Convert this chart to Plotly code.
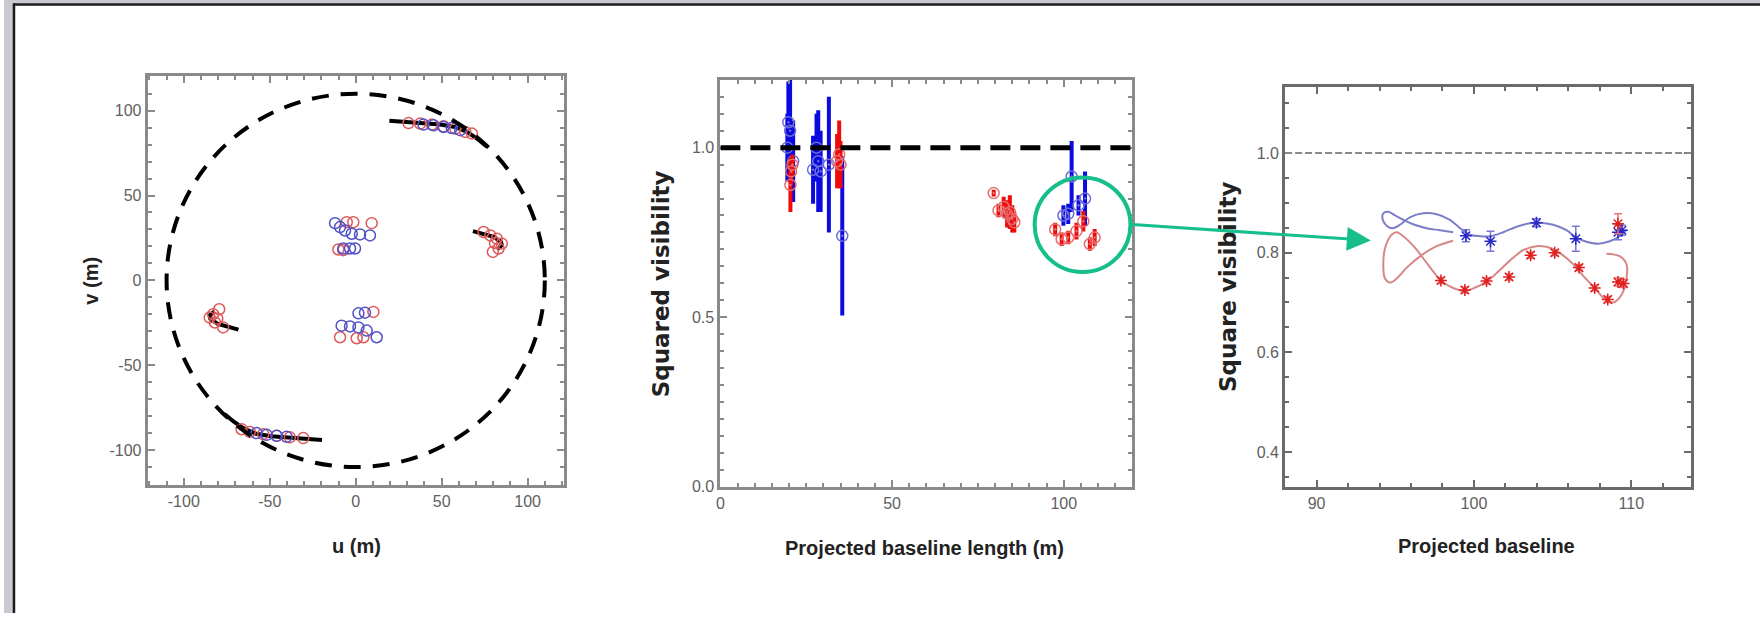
import plotly.graph_objects as go

W, H = 1760, 622

# ---------------- Panel 1 : uv coverage ----------------
track_u = [19.6, 29.7, 39.4, 49.1, 57.9, 64.7, 70.5, 76.3, None,
           -19.6, -29.7, -39.4, -49.1, -57.9, -64.7, -70.5, -76.3, None,
           68.2, 74.4, 80.2, 84.5, 85.0, 82.1, None,
           -68.2, -74.4, -80.2, -84.5, -85.0, -82.1]
track_v = [94.1, 93.5, 92.7, 91.8, 90.4, 87.5, 83.6, 78.8, None,
           -94.1, -93.5, -92.7, -91.8, -90.4, -87.5, -83.6, -78.8, None,
           29.0, 27.5, 25.6, 22.7, 20.7, 18.2, None,
           -29.0, -27.5, -25.6, -22.7, -20.7, -18.2]

uv_red_u = [30.7, 37.5, 44.3, 51.1, 57.9, 63.7, 67.6,
            -30.5, -38.3, -46.0, -53.8, -61.6, -66.4,
            74.4, 78.3, 82.1, 85.0, 83.1, 79.8, 81.0,
            -79.4, -82.9, -84.9, -81.9, -77.1, -80.5,
            -5.2, -1.4, 9.3, -10.1, -7.2,
            10.3, -9.1, 0.6, 4.5]
uv_red_v = [92.7, 92.4, 91.8, 90.8, 89.4, 87.5, 86.5,
            -92.9, -92.5, -91.6, -90.6, -89.3, -87.7,
            28.5, 26.5, 24.6, 21.7, 18.8, 16.8, 22.0,
            -17.0, -19.9, -21.9, -24.8, -27.7, -22.5,
            34.3, 34.3, 33.7, 18.2, 17.8,
            -18.6, -33.5, -34.1, -33.5]

uv_blue_u = [39.4, 45.2, 51.1, 55.9, 60.8,
             -40.2, -46.0, -51.8, -57.7,
             -12.0, -9.1, -6.2, -2.3, 2.5, 8.3, -7.2, -3.3, -0.4,
             1.6, 5.4, -8.2, -3.3, 1.6, 6.4, 12.2]
uv_blue_v = [91.8, 91.4, 90.4, 89.8, 88.5,
             -92.2, -91.6, -91.0, -90.0,
             33.7, 31.4, 29.4, 27.5, 27.1, 26.5, 18.8, 18.8, 18.8,
             -19.4, -19.0, -26.7, -27.1, -27.7, -29.6, -33.5]

uv_circle_radius = 110
uv_tickvals = [-100, -50, 0, 50, 100]
uv_ticktext = ['-100', '-50', '0', '50', '100']

# ---------------- Panel 2 : squared visibility ----------------
v2_blue_x = [19.5, 19.8, 20.3, 21.2, 27.0, 28.0, 28.5, 29.2, 31.6, 35.5,
             99.9, 101.3, 102.3, 104.3, 106.2]
v2_blue_y = [1.00, 1.075, 1.05, 0.96, 0.935, 1.00, 0.96, 0.93, 0.95, 0.74,
             0.80, 0.805, 0.915, 0.83, 0.85]
v2_blue_err = [0.10, 0.12, 0.15, 0.12, 0.10, 0.10, 0.15, 0.12, 0.20, 0.235,
               0.03, 0.03, 0.105, 0.03, 0.08]

v2_red_x = [20.4, 20.6, 21.0, 34.0, 34.6, 35.0,
            79.6, 81.0, 82.5, 83.5, 84.3, 85.0, 85.6,
            97.5, 99.4, 101.3, 103.7, 105.7, 107.6, 109.0]
v2_red_y = [0.89, 0.93, 0.95, 0.96, 0.98, 0.95,
            0.866, 0.815, 0.825, 0.805, 0.81, 0.79, 0.78,
            0.759, 0.73, 0.735, 0.754, 0.783, 0.716, 0.735]
v2_red_err = [0.08, 0.04, 0.03, 0.08, 0.10, 0.07,
              0.01, 0.02, 0.03, 0.04, 0.05, 0.04, 0.03,
              0.02, 0.02, 0.02, 0.025, 0.03, 0.02, 0.025]
v2_reference = 1.0

# ---------------- Panel 3 : zoom ----------------
v3_blue_curve_x = [98.68, 97.84, 96.99, 96.14, 95.51, 94.98, 94.56, 94.24, 94.20,
                   94.45, 94.83, 95.30, 95.93, 96.78, 97.63, 98.47, 99.21, 99.74,
                   100.38, 101.06, 101.86, 102.71, 103.55, 104.19, 105.03, 105.88,
                   106.51, 107.15, 107.89, 108.63, 109.26, 109.69]
v3_blue_curve_y = [0.841, 0.845, 0.849, 0.857, 0.866, 0.875, 0.882, 0.879, 0.867,
                   0.854, 0.849, 0.856, 0.871, 0.879, 0.877, 0.866, 0.847, 0.836,
                   0.833, 0.833, 0.841, 0.852, 0.859, 0.860, 0.856, 0.845,
                   0.830, 0.822, 0.818, 0.823, 0.833, 0.846]

v3_red_curve_x = [98.68, 97.63, 96.68, 95.73, 95.09, 94.67, 94.35, 94.24, 94.39,
                  94.77, 95.09, 95.62, 96.25, 96.89, 97.42, 97.90, 98.68, 99.42,
                  100.16, 100.80, 101.54, 102.28, 103.13, 103.97, 104.82, 105.56,
                  106.30, 106.93, 107.67, 108.31, 108.84, 109.37, 109.69, 109.69,
                  109.26, 108.42]
v3_red_curve_y = [0.824, 0.813, 0.795, 0.770, 0.748, 0.740, 0.748, 0.780, 0.813,
                  0.836, 0.841, 0.830, 0.810, 0.784, 0.762, 0.744, 0.729, 0.723,
                  0.731, 0.742, 0.762, 0.784, 0.805, 0.813, 0.810, 0.797,
                  0.777, 0.754, 0.729, 0.707, 0.700, 0.715, 0.748, 0.777,
                  0.793, 0.798]

v3_blue_x = [99.49, 101.05, 103.97, 106.47, 109.15, 109.4]
v3_blue_y = [0.834, 0.823, 0.860, 0.828, 0.841, 0.845]
v3_blue_err = [0.012, 0.02, 0.008, 0.025, 0.015, 0.01]

v3_red_x = [97.9, 99.42, 100.8, 102.23, 103.6, 105.13, 106.67, 107.67, 108.5,
            109.15, 109.5, 109.15]
v3_red_y = [0.744, 0.725, 0.743, 0.751, 0.795, 0.800, 0.770, 0.729, 0.706,
            0.741, 0.738, 0.858]
v3_red_err = [0.006, 0.006, 0.006, 0.006, 0.006, 0.006, 0.006, 0.006, 0.006,
              0.008, 0.008, 0.02]
v3_reference = 1.0

# ---------------- figure ----------------
fig = go.Figure()

RED_M = 'rgb(222,90,90)'
BLUE_M = 'rgb(80,80,200)'

# panel 1
fig.add_trace(go.Scatter(x=track_u, y=track_v, mode='lines',
                         line=dict(color='black', width=4), xaxis='x', yaxis='y',
                         hoverinfo='skip'))
fig.add_trace(go.Scatter(x=uv_red_u, y=uv_red_v, mode='markers',
                         marker=dict(symbol='circle-open', size=11,
                                     line=dict(color=RED_M, width=1.5), color=RED_M),
                         xaxis='x', yaxis='y'))
fig.add_trace(go.Scatter(x=uv_blue_u, y=uv_blue_v, mode='markers',
                         marker=dict(symbol='circle-open', size=11,
                                     line=dict(color=BLUE_M, width=1.5), color=BLUE_M),
                         xaxis='x', yaxis='y'))

# panel 2
fig.add_trace(go.Scatter(x=v2_blue_x, y=v2_blue_y, mode='markers',
                         error_y=dict(type='data', array=v2_blue_err, color='rgb(10,10,225)',
                                      thickness=4, width=0),
                         marker=dict(symbol='circle-open-dot', size=11, color='rgb(110,110,215)',
                                     line=dict(width=1.5)),
                         xaxis='x2', yaxis='y2'))
fig.add_trace(go.Scatter(x=v2_red_x, y=v2_red_y, mode='markers',
                         error_y=dict(type='data', array=v2_red_err, color='rgb(240,10,10)',
                                      thickness=4, width=0),
                         marker=dict(symbol='circle-open-dot', size=11, color='rgb(230,110,110)',
                                     line=dict(width=1.5)),
                         xaxis='x2', yaxis='y2'))

# panel 3
fig.add_trace(go.Scatter(x=v3_blue_curve_x, y=v3_blue_curve_y, mode='lines',
                         line=dict(color='rgb(125,125,200)', width=2, shape='spline'),
                         xaxis='x3', yaxis='y3'))
fig.add_trace(go.Scatter(x=v3_red_curve_x, y=v3_red_curve_y, mode='lines',
                         line=dict(color='rgb(215,135,135)', width=2, shape='spline'),
                         xaxis='x3', yaxis='y3'))
fig.add_trace(go.Scatter(x=v3_blue_x, y=v3_blue_y, mode='markers',
                         error_y=dict(type='data', array=v3_blue_err, color='rgb(120,120,210)',
                                      thickness=1.5, width=4),
                         marker=dict(symbol='asterisk-open', size=10, color='rgb(40,40,200)',
                                     line=dict(color='rgb(40,40,200)', width=1.5)),
                         xaxis='x3', yaxis='y3'))
fig.add_trace(go.Scatter(x=v3_red_x, y=v3_red_y, mode='markers',
                         error_y=dict(type='data', array=v3_red_err, color='rgb(230,120,120)',
                                      thickness=1.5, width=4),
                         marker=dict(symbol='asterisk-open', size=10, color='rgb(225,30,30)',
                                     line=dict(color='rgb(225,30,30)', width=1.5)),
                         xaxis='x3', yaxis='y3'))


def px_x(p):
    return p / W


def px_y(p):
    return 1 - p / H


TICKFONT = dict(family='Liberation Sans, Arial', size=16, color='#606060')


def axis(domain, rng, dtick, minor, anchor, linecolor='#8a8a8a', **kw):
    d = dict(domain=domain, range=rng, dtick=dtick, anchor=anchor,
             showline=True, linecolor=linecolor, linewidth=3, mirror='ticks',
             ticks='inside', ticklen=7, tickwidth=2, tickcolor=linecolor,
             minor=dict(dtick=minor, ticks='inside', ticklen=4, tickwidth=2,
                        tickcolor=linecolor, showgrid=False),
             showgrid=False, zeroline=False, tickfont=TICKFONT, fixedrange=True)
    d.update(kw)
    return d


P1 = dict(x=(144, 561), y=(77, 492))
P2 = dict(x=(718, 1131), y=(81, 494))
P3 = dict(x=(1284, 1691), y=(88, 494))


def dom(p):
    return [px_x(p['x'][0]), px_x(p['x'][1])], [px_y(p['y'][1]), px_y(p['y'][0])]


d1x, d1y = dom(P1)
d2x, d2y = dom(P2)
d3x, d3y = dom(P3)

fig.update_layout(
    width=W, height=H, autosize=False,
    margin=dict(l=0, r=0, t=0, b=0, pad=0),
    paper_bgcolor='white', plot_bgcolor='white', showlegend=False,
    xaxis=axis(d1x, [-121, 121], 50, 10, 'y', tickmode='array',
               tickvals=uv_tickvals, ticktext=uv_ticktext),
    yaxis=axis(d1y, [-120.5, 120.5], 50, 10, 'x', tickmode='array',
               tickvals=uv_tickvals, ticktext=uv_ticktext),
    xaxis2=axis(d2x, [0, 120], 50, 5, 'y2'),
    yaxis2=axis(d2y, [0, 1.2], 0.5, 0.05, 'x2', tickformat='.1f'),
    xaxis3=axis(d3x, [88, 113.8], 10, 2, 'y3', linecolor='#6a6a6a'),
    yaxis3=axis(d3y, [0.33, 1.133], 0.2, 0.05, 'x3', tickformat='.1f',
                tick0=0, linecolor='#6a6a6a'),
)

GREEN = 'rgb(22,190,140)'
shapes = [
    # frame of the page
    dict(type='rect', xref='paper', yref='paper', x0=0, x1=px_x(9), y0=0, y1=1,
         fillcolor='rgb(200,202,207)', line=dict(width=0), layer='above'),
    dict(type='rect', xref='paper', yref='paper', x0=0, x1=1, y0=px_y(3.5), y1=1,
         fillcolor='rgb(200,202,207)', line=dict(width=0), layer='above'),
    dict(type='line', xref='paper', yref='paper', x0=px_x(10), x1=px_x(10), y0=0, y1=px_y(3.5),
         line=dict(color='#1a1a1a', width=2.5), layer='above'),
    dict(type='line', xref='paper', yref='paper', x0=px_x(9), x1=1, y0=px_y(4.5), y1=px_y(4.5),
         line=dict(color='#1a1a1a', width=2.5), layer='above'),
    # uv reference circle
    dict(type='circle', xref='x', yref='y',
         x0=-uv_circle_radius, x1=uv_circle_radius,
         y0=-uv_circle_radius, y1=uv_circle_radius,
         line=dict(color='black', width=4, dash='17px,12px'), layer='above'),
    # visibility = 1 reference lines
    dict(type='line', xref='x2', yref='y2', x0=0, x1=120, y0=v2_reference, y1=v2_reference,
         line=dict(color='black', width=5, dash='20px,10px'), layer='above'),
    dict(type='line', xref='x3', yref='y3', x0=88, x1=113.8, y0=v3_reference, y1=v3_reference,
         line=dict(color='#8a8a8a', width=2, dash='7px,3px'), layer='above'),
    # green highlight circle
    dict(type='circle', xref='paper', yref='paper',
         x0=px_x(1033), x1=px_x(1129), y0=px_y(276), y1=px_y(180),
         line=dict(color=GREEN, width=4), layer='above'),
]
fig.update_layout(shapes=shapes)

HFONT = dict(family='Liberation Sans, Arial', size=20, color='#222222')
VFONT = dict(family='DejaVu Sans', size=23, color='#222222')
annotations = [
    dict(text='<b>u (m)</b>', x=px_x(353), y=px_y(554), font=HFONT),
    dict(text='<b>v (m)</b>', x=px_x(87), y=px_y(285), textangle=-90, font=HFONT),
    dict(text='<b>Projected baseline length (m)</b>', x=px_x(923), y=px_y(556), font=HFONT),
    dict(text='<b>Squared visibility</b>', x=px_x(658), y=px_y(288), textangle=-90, font=VFONT),
    dict(text='<b>Projected baseline</b>', x=px_x(1486), y=px_y(554), font=HFONT),
    dict(text='<b>Square visibility</b>', x=px_x(1227), y=px_y(291), textangle=-90, font=VFONT),
]
for a in annotations:
    a.update(xref='paper', yref='paper', showarrow=False,
             xanchor='center', yanchor='middle')
annotations.append(dict(
    xref='paper', yref='paper', axref='pixel', ayref='pixel',
    x=px_x(1370), y=px_y(244), ax=-240, ay=-16,
    showarrow=True, arrowhead=2, arrowsize=1.6, arrowwidth=3, arrowcolor=GREEN,
    text=''))
fig.update_layout(annotations=annotations)

fig.write_html('out.html')
